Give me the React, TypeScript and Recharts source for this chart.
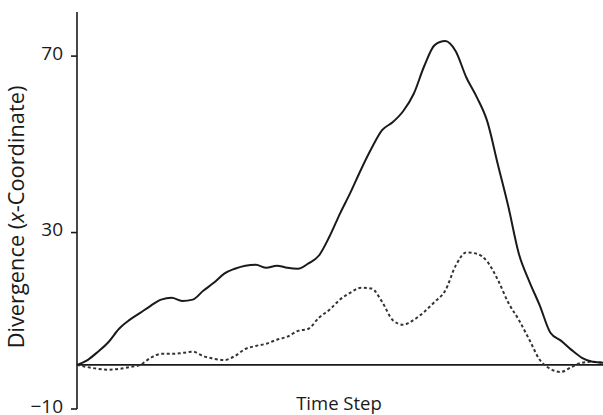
import { LineChart, Line, XAxis, YAxis, ReferenceLine } from "recharts";

// time steps 0..100, every 2
const steps = [
  0, 2, 4, 6, 8, 10, 12, 14, 16, 18, 20, 22, 24, 26, 28, 30, 32, 34, 36, 38, 40, 42, 44, 46, 48, 50,
  52, 54, 56, 58, 60, 62, 64, 66, 68, 70, 72, 74, 76, 78, 80, 82, 84, 86, 88, 90, 92, 94, 96, 98, 100,
];

const solid = [
  0, 1.1, 3.0, 5.2, 8.2, 10.2, 11.8, 13.4, 14.8, 15.2, 14.5, 14.8, 16.8, 18.6, 20.7, 21.8, 22.5, 22.7,
  22.0, 22.5, 22.0, 21.8, 23.0, 24.8, 29.1, 34.3, 39.1, 44.3, 49.1, 53.2, 55.0, 57.5, 61.4, 67.7, 72.5,
  73.4, 71.1, 65.2, 60.7, 55.2, 45.5, 35.9, 25.2, 18.9, 13.4, 7.3, 5.5, 3.4, 1.6, 0.7, 0.5,
];

const dotted = [
  0, -0.5, -0.9, -1.1, -0.9, -0.5, 0, 1.6, 2.5, 2.5, 2.7, 3.0, 2.0, 1.4, 1.1, 2.0, 3.6, 4.3, 4.8, 5.7,
  6.4, 7.7, 8.2, 10.7, 12.5, 14.8, 16.4, 17.5, 17.3, 14.3, 10.2, 9.1, 10.2, 12.0, 14.3, 16.8, 22.5,
  25.5, 25.2, 23.4, 19.3, 14.1, 10.2, 5.7, 1.1, -0.9, -1.6, -0.5, 0.5, 0.7, 0.5,
];

const yTicks = [-10, 30, 70];

const data = steps.map((t, i) => ({ t, solid: solid[i], dotted: dotted[i] }));

const FONT = "'Open Sans', 'Noto Sans', sans-serif";
const INK = "#1a1a1a";

function fmtTick(v: number) {
  return v < 0 ? `\u2212${Math.abs(v)}` : String(v);
}

// tick labels: roughly centred on the tick, nudged so "−10" stays inside the frame
function YTick({ x, y, payload }: any) {
  return (
    <text x={x - 6} y={y} dy={3.5} textAnchor="end" fontFamily={FONT} fontSize={19} fill={INK}>
      {fmtTick(payload.value)}
    </text>
  );
}

// axis titles sit at fixed spots in the frame, like the print figure
function Titles() {
  const cx = 24;
  const cy = 217;
  return (
    <g>
      <text
        x={cx}
        y={cy}
        transform={`rotate(-90 ${cx} ${cy})`}
        textAnchor="middle"
        fontFamily={FONT}
        fontSize={21.8}
        fill={INK}
      >
        Divergence (<tspan fontStyle="italic">x</tspan>-Coordinate)
      </text>
      <text x={339} y={410} textAnchor="middle" fontFamily={FONT} fontSize={18.5} fill={INK}>
        Time Step
      </text>
    </g>
  );
}

export default function App() {
  return (
    <div style={{ position: "absolute", left: 0, top: 0, background: "#fff" }}>
      <LineChart width={603} height={415} data={data} margin={{ top: 12, right: 0, bottom: 6, left: 0 }}>
        <XAxis dataKey="t" type="number" domain={[0, 100]} hide />
        <YAxis
          width={77}
          domain={[-10, 80]}
          ticks={yTicks}
          interval={0}
          allowDataOverflow
          tick={<YTick />}
          tickSize={6}
          axisLine={{ stroke: INK, strokeWidth: 1.6 }}
          tickLine={{ stroke: INK, strokeWidth: 1.6 }}
          label={{ content: () => <Titles /> }}
        />
        <ReferenceLine y={0} stroke={INK} strokeWidth={1.6} />
        <Line
          dataKey="dotted"
          type="monotone"
          stroke="#333"
          strokeWidth={2}
          strokeDasharray="3 2.5"
          dot={false}
          isAnimationActive={false}
        />
        <Line
          dataKey="solid"
          type="monotone"
          stroke={INK}
          strokeWidth={2}
          dot={false}
          isAnimationActive={false}
        />
      </LineChart>
    </div>
  );
}
